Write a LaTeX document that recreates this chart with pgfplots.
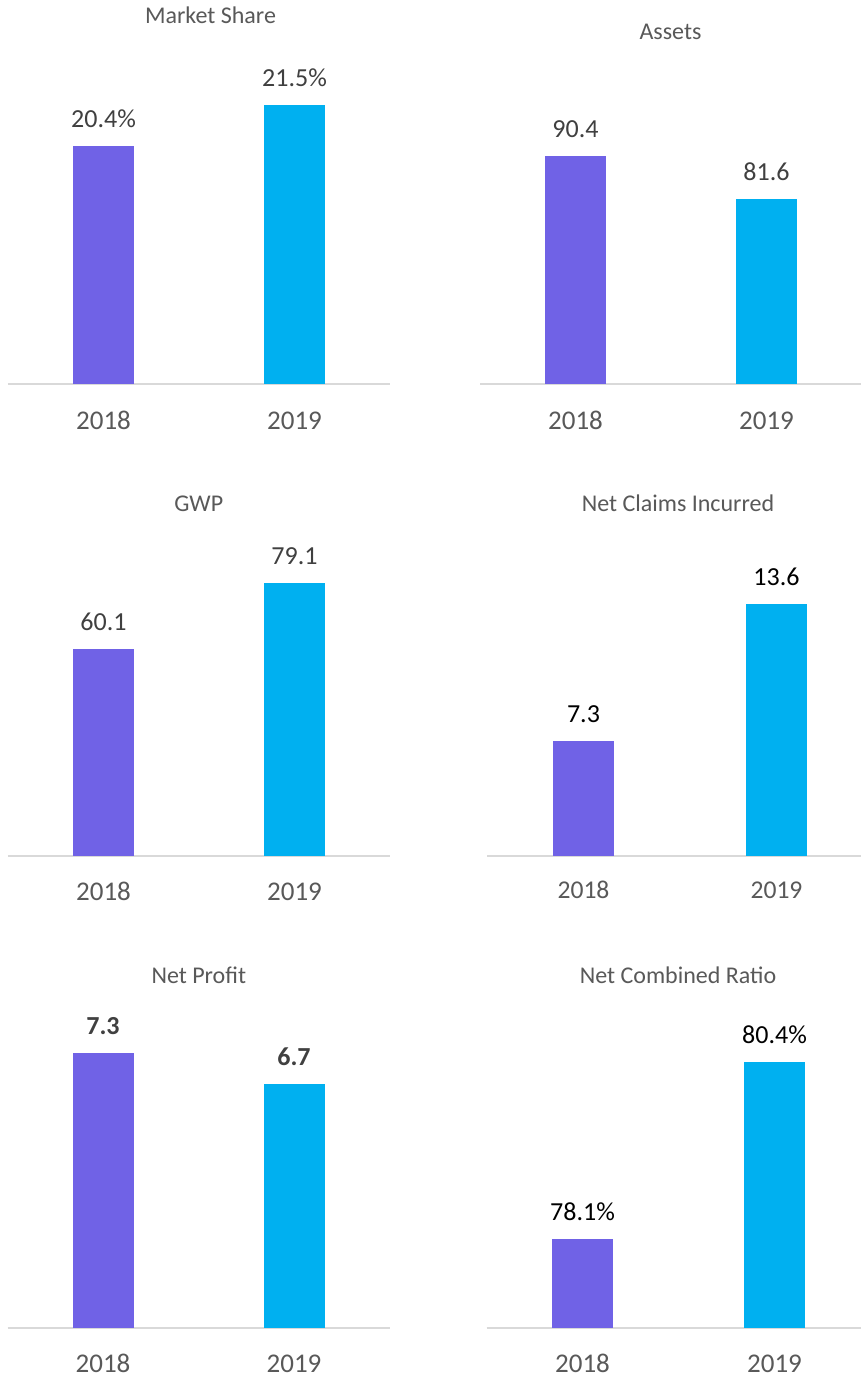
\documentclass[border=0pt]{standalone}
\usepackage{pgfplots}
\pgfplotsset{compat=1.18}
\usepackage{fontspec}
\setmainfont{Carlito}
\definecolor{barA}{HTML}{7062E6}
\definecolor{barB}{HTML}{00B0F0}
\definecolor{titlegray}{HTML}{595959}
\definecolor{labgray}{HTML}{404040}
\definecolor{axgray}{HTML}{D9D9D9}
\pgfplotsset{
  panel/.style={
    scale only axis, anchor=south west,
    xmin=-0.5, xmax=1.5,
    axis x line=bottom, axis y line=none,
    x axis line style={-, draw=axgray, line width=1pt},
    xtick={0,1}, xticklabels={2018,2019},
    major tick length=0pt, xtick style={draw=none},
    xticklabel style={anchor=base, yshift=-22.5pt, font=\fontsize{13.5}{16}\selectfont, text=titlegray},
    /pgf/number format/fixed, /pgf/number format/precision=1,
    /pgf/number format/fixed zerofill, /pgf/number format/assume math mode=true,
    every node near coord/.append style={anchor=base, yshift=9.25pt, font=\fontsize{13}{15}\selectfont, text=labgray},
  },
  barA/.style={ybar, bar width=30.5pt, bar shift=0pt, fill=barA, draw=none},
  barB/.style={ybar, bar width=30.5pt, bar shift=0pt, fill=barB, draw=none},
}
\tikzset{ttl/.style={anchor=base, font=\fontsize{12}{14}\selectfont, text=titlegray}}
\begin{document}
\begin{tikzpicture}
\useasboundingbox (0,0) rectangle (430.5pt,690pt);
\clip (0,0) rectangle (430.5pt,690pt);
\fill[white] (0,0) rectangle (430.5pt,690pt);

% Market Share
\begin{axis}[panel, at={(4pt,497.85pt)}, x=95.5pt, y=18.65pt, ymin=14, ymax=23,
  nodes near coords={\pgfmathprintnumber{\pgfplotspointmeta}\%}]
\addplot[barA] coordinates {(0,20.4)};
\addplot[barB] coordinates {(1,21.5)};
\end{axis}
\node[ttl] at (105.25pt,678pt) {Market Share};

% Assets
\begin{axis}[panel, at={(240pt,497.85pt)}, x=95.5pt, y=2.4625pt, ymin=44, ymax=100,
  nodes near coords]
\addplot[barA] coordinates {(0,90.4)};
\addplot[barB] coordinates {(1,81.6)};
\end{axis}
\node[ttl] at (335.25pt,670pt) {Assets};

% GWP
\begin{axis}[panel, at={(4pt,262pt)}, x=95.5pt, y=1.7236pt, ymin=0, ymax=95,
  nodes near coords]
\addplot[barA] coordinates {(0,60.1)};
\addplot[barB] coordinates {(1,79.1)};
\end{axis}
\node[ttl] at (99.4pt,434.15pt) {GWP};

% Net Claims Incurred
\begin{axis}[panel, at={(243.5pt,262pt)}, x=96.5pt, y=10.875pt, ymin=2, ymax=16,
  xticklabel style={yshift=1.3pt, font=\fontsize{12.8}{15}\selectfont},
  nodes near coords, every node near coord/.append style={text=black}]
\addplot[barA] coordinates {(0,7.3)};
\addplot[barB] coordinates {(1,13.6)};
\end{axis}
\node[ttl] at (339pt,434.15pt) {Net Claims Incurred};

% Net Profit
\begin{axis}[panel, at={(3.75pt,26pt)}, x=95.5pt, y=25.925pt, ymin=2, ymax=8.3,
  nodes near coords, every node near coord/.append style={font=\fontsize{13}{15}\selectfont\bfseries}]
\addplot[barA] coordinates {(0,7.3)};
\addplot[barB] coordinates {(1,6.7)};
\end{axis}
\node[ttl] at (99.4pt,198.35pt) {Net Profit};

% Net Combined Ratio
\begin{axis}[panel, at={(243.25pt,26pt)}, x=96pt, y=38.48pt, ymin=76.95, ymax=81.2,
  nodes near coords={\pgfmathprintnumber{\pgfplotspointmeta}\%},
  every node near coord/.append style={text=black}]
\addplot[barA] coordinates {(0,78.1)};
\addplot[barB] coordinates {(1,80.4)};
\end{axis}
\node[ttl] at (339pt,198.35pt) {Net Combined Ratio};
\end{tikzpicture}
\end{document}
